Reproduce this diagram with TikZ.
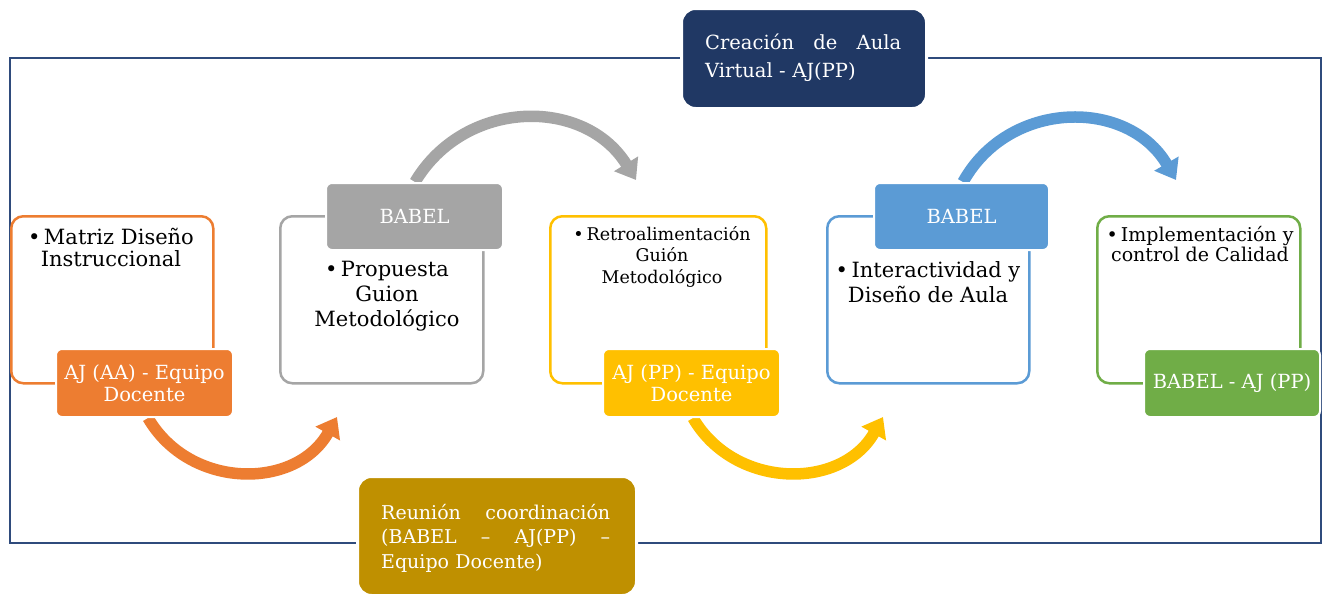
\documentclass[tikz,border=0pt]{standalone}
\usepackage{fontspec}
\setmainfont{DejaVu Serif}
\usetikzlibrary{arrows.meta}
\definecolor{navybox}{HTML}{203864}
\definecolor{framecol}{HTML}{2F4B7C}
\definecolor{cOrange}{HTML}{ED7D31}
\definecolor{cGray}{HTML}{A5A5A5}
\definecolor{cYellow}{HTML}{FFC000}
\definecolor{cBlue}{HTML}{5B9BD5}
\definecolor{cGreen}{HTML}{70AD47}
\definecolor{cGold}{HTML}{BF9000}
\begin{document}
\begin{tikzpicture}[x=1pt,y=-1pt,
  panelbox/.style={draw=#1, line width=2.5pt, rounded corners=12pt, anchor=north west, inner sep=0pt, fill=white},
  tagbox/.style={fill=#1, draw=white, line width=2pt, rounded corners=6pt, anchor=north west, inner sep=0pt, text=white, font=\fontsize{19.5}{22}\selectfont, align=center},
  bigbox/.style={fill=#1, draw=white, line width=3pt, rounded corners=14pt, anchor=north west, inner sep=0pt},
  bodytext/.style={anchor=north, align=center, inner sep=0pt, font=\fontsize{21}{25}\selectfont},
  smalltext/.style={anchor=north, align=center, inner sep=0pt, font=\fontsize{17.5}{21.5}\selectfont},
  bigarrow/.style={draw=#1, line width=11.5pt, -{Triangle[width=27pt,length=19pt]}},
  boxtext/.style={anchor=north west, inner sep=0pt, text=white, align=left, font=\fontsize{19.5}{28}\selectfont}
]
\useasboundingbox (0,0) rectangle (1326,597);
\fill[white] (0,0) rectangle (1326,597);
% outer frame
\node[draw=framecol, line width=1.8pt, anchor=north west, inner sep=0pt, minimum width=1311pt, minimum height=485pt] (frame) at (9,57) {};

% panel outlines
\node[panelbox=cOrange, minimum width=202pt, minimum height=167pt] (p1) at (10,215) {};
\node[panelbox=cGray,   minimum width=203pt, minimum height=167pt] (p2) at (279,215) {};
\node[panelbox=cYellow, minimum width=216pt, minimum height=167pt] (p3) at (549,215) {};
\node[panelbox=cBlue,   minimum width=202pt, minimum height=167pt] (p4) at (826,215) {};
\node[panelbox=cGreen,  minimum width=203pt, minimum height=167pt] (p5) at (1096,215) {};

% panel texts
\node[bodytext, font=\fontsize{21}{22}\selectfont] (t1) at (111,228) {\textbullet\,Matriz Diseño\\Instruccional};
\node[bodytext] (t2) at (387,261) {\textbullet\,Propuesta\\Guion\\Metodológico};
\node[smalltext] (t3) at (662,226) {\textbullet\,Retroalimentación\\Guión\\Metodológico};
\node[smalltext, font=\fontsize{19}{20}\selectfont] (t5) at (1200,226) {\textbullet\,Implementación y\\control de Calidad};
\node[bodytext] (t4) at (928,261) {\textbullet\,Interactividad y\\Diseño de Aula};

% connector end points
\coordinate (a1s) at (148,418);
\coordinate (a1e) at (337,417);
\coordinate (a2s) at (415,182);
\coordinate (a2e) at (636,180);
\coordinate (a3s) at (693,418);
\coordinate (a3e) at (883,417);
\coordinate (a4s) at (963,182);
\coordinate (a4e) at (1176,180);

\draw[bigarrow=cOrange] (a1s) .. controls (190,490) and (296,490) .. (a1e);
\draw[bigarrow=cGray] (a2s) .. controls (465,98) and (585,97) .. (a2e);
\draw[bigarrow=cYellow] (a3s) .. controls (735,490) and (842,490) .. (a3e);
\draw[bigarrow=cBlue] (a4s) .. controls (1009,99) and (1128,98) .. (a4e);

% tag boxes
\node[tagbox=cOrange, minimum width=177pt, minimum height=68pt] (g1) at (55,348) {AJ (AA) - Equipo\\Docente};
\node[tagbox=cGray,   minimum width=177pt, minimum height=67pt] (g2) at (325,182) {BABEL};
\node[tagbox=cYellow, minimum width=177pt, minimum height=68pt] (g3) at (602,348) {AJ (PP) - Equipo\\Docente};
\node[tagbox=cBlue,   minimum width=175pt, minimum height=67pt] (g4) at (873,182) {BABEL};
\node[tagbox=cGreen,  minimum width=176pt, minimum height=68pt] (g5) at (1143,348) {BABEL - AJ (PP)};

% top and bottom boxes
\node[bigbox=navybox, minimum width=245pt, minimum height=100pt] (top) at (680,7) {};
\node[boxtext, text width=196pt] (toptext) at (705,34) {Creación\hfill de\hfill Aula\\Virtual - AJ(PP)};
\node[bigbox=cGold, minimum width=279pt, minimum height=119pt] (bot) at (356,475) {};
\node[boxtext, text width=229pt, font=\fontsize{19}{24.5}\selectfont] (bottext) at (381,504) {Reunión\hfill coordinación\\(BABEL\hfill –\hfill AJ(PP)\hfill –\\Equipo Docente)};
\end{tikzpicture}
\end{document}
